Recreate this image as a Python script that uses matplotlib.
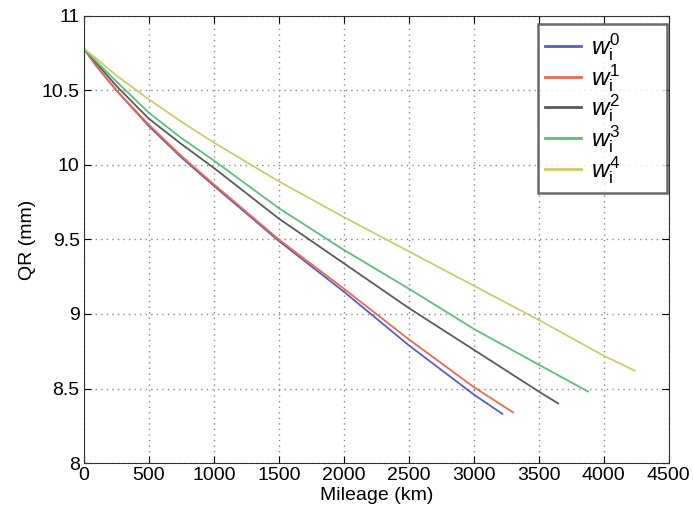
import numpy as np
import matplotlib.pyplot as plt

plt.rcParams['font.family'] = ['Liberation Sans', 'DejaVu Sans']
plt.rcParams['mathtext.fontset'] = 'custom'
plt.rcParams['mathtext.it'] = 'Liberation Sans:italic'
plt.rcParams['mathtext.rm'] = 'Liberation Sans'

# (km, mm)
km_w0 = [0, 100, 250, 500, 750, 1000, 1500, 2000, 2500, 3000, 3220]
qr_w0 = [10.78, 10.66, 10.50, 10.26, 10.05, 9.86, 9.49, 9.15, 8.79, 8.46, 8.33]
km_w1 = [0, 100, 250, 500, 750, 1000, 1500, 2000, 2500, 3000, 3302]
qr_w1 = [10.78, 10.66, 10.50, 10.27, 10.06, 9.87, 9.50, 9.17, 8.83, 8.51, 8.34]
km_w2 = [0, 100, 250, 500, 750, 1000, 1500, 2000, 2500, 3000, 3500, 3649]
qr_w2 = [10.78, 10.68, 10.53, 10.31, 10.14, 9.98, 9.64, 9.34, 9.04, 8.76, 8.48, 8.40]
km_w3 = [0, 100, 250, 500, 750, 1000, 1500, 2000, 2500, 3000, 3500, 3879]
qr_w3 = [10.78, 10.69, 10.56, 10.35, 10.18, 10.03, 9.71, 9.43, 9.17, 8.90, 8.66, 8.48]
km_w4 = [0, 100, 250, 500, 750, 1000, 1500, 2000, 2500, 3000, 3500, 4000, 4238]
qr_w4 = [10.78, 10.71, 10.60, 10.44, 10.29, 10.15, 9.89, 9.65, 9.42, 9.19, 8.96, 8.72, 8.62]

series = [(km_w0, qr_w0), (km_w1, qr_w1), (km_w2, qr_w2), (km_w3, qr_w3), (km_w4, qr_w4)]
labels = [r'$w_{\mathrm{i}}^{%d}$' % k for k in range(5)]
colors = ['#5a5ac8', '#f0684a', '#5a5a5a', '#5cbf78', '#cccc66']

fig = plt.figure(figsize=(6.93, 5.28), dpi=100)
ax = fig.add_axes([0.121, 0.123, 0.844, 0.847])

for (x, y), lab, c in zip(series, labels, colors):
    ax.plot(x, y, color=c, linewidth=1.3, label=lab)

ax.set_xlim(0, 4500)
ax.set_ylim(8, 11)
ax.set_xticks(np.arange(0, 4501, 500))
ax.set_yticks([8, 8.5, 9, 9.5, 10, 10.5, 11])
ax.set_yticklabels(['8', '8.5', '9', '9.5', '10', '10.5', '11'])
ax.grid(True, linestyle=(0, (1, 3)), color='#888888', linewidth=1.0)
ax.tick_params(direction='in', top=True, right=True, labelsize=14, length=5, pad=3)
for s in ax.spines.values():
    s.set_color('#333333')
ax.set_xlabel('Mileage (km)', fontsize=14, labelpad=2)
ax.set_ylabel('QR (mm)', fontsize=14, labelpad=4)

# wide legend box like the original, extra room on the right
leg = ax.legend(loc='upper right', fontsize=17.5, handlelength=1.5, labelspacing=-0.04,
                borderpad=0.3, handletextpad=0.4, fancybox=False, borderaxespad=0,
                mode='expand', bbox_to_anchor=(0.776, 0.0, 0.2205, 0.982))
leg.get_frame().set_edgecolor('#444444')
leg.get_frame().set_linewidth(1.8)
for l in leg.get_lines():
    l.set_linewidth(2.0)

fig.savefig('out.png', dpi=100)
